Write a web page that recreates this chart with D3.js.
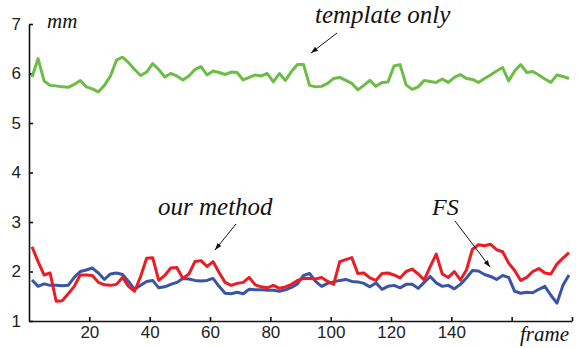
<!DOCTYPE html>
<html>
<head>
<meta charset="utf-8">
<script src="https://cdn.jsdelivr.net/npm/d3@7"></script>
<style>
  body { margin: 0; background: #fff; }
  .tick text { font-family: "Liberation Sans", Arial, sans-serif; font-size: 17px; fill: #222; }
  .note { font-family: "Liberation Serif", "Times New Roman", serif; font-style: italic; fill: #111; }
</style>
</head>
<body>
<svg id="chart" width="579" height="348"></svg>
<script>
// frame index (every other frame)
const frames = d3.range(1, 181, 2);

const templateOnly = [
  5.93, 6.30, 5.85, 5.76, 5.75, 5.73, 5.72, 5.78, 5.86, 5.73,
  5.69, 5.63, 5.76, 5.95, 6.27, 6.33, 6.22, 6.08, 5.96, 6.03,
  6.20, 6.08, 5.93, 6.00, 5.95, 5.87, 5.95, 6.08, 6.14, 5.97,
  6.05, 6.02, 5.98, 6.03, 6.02, 5.87, 5.92, 5.97, 5.95, 6.00,
  5.83, 6.00, 5.86, 6.04, 6.18, 6.18, 5.76, 5.73, 5.74, 5.80,
  5.90, 5.92, 5.86, 5.80, 5.67, 5.76, 5.86, 5.74, 5.82, 5.83,
  6.15, 6.18, 5.77, 5.68, 5.73, 5.86, 5.84, 5.82, 5.89, 5.82,
  5.92, 5.98, 5.90, 5.88, 5.82, 5.90, 5.97, 6.05, 6.12, 5.85,
  6.05, 6.18, 6.02, 6.04, 5.97, 5.89, 5.82, 5.97, 5.94, 5.90
];

const ourMethod = [
  2.50, 2.20, 1.93, 1.97, 1.40, 1.41, 1.55, 1.70, 1.93, 1.93,
  1.92, 1.78, 1.73, 1.72, 1.74, 1.88, 1.70, 1.60, 1.90, 2.27,
  2.28, 1.82, 1.92, 2.07, 2.08, 1.86, 1.95, 2.20, 2.22, 2.10,
  2.20, 1.98, 1.78, 1.72, 1.76, 1.78, 1.88, 1.73, 1.69, 1.67,
  1.72, 1.66, 1.69, 1.74, 1.82, 1.86, 1.86, 1.85, 1.88, 1.80,
  1.74, 2.20, 2.24, 2.28, 1.96, 1.97, 1.87, 1.82, 1.96, 1.97,
  1.93, 1.87, 2.00, 2.05, 1.95, 1.83, 2.10, 2.35, 1.95, 1.88,
  2.00, 1.83, 2.03, 2.45, 2.54, 2.52, 2.55, 2.44, 2.40, 2.17,
  2.02, 1.82, 1.88, 2.00, 2.06, 1.97, 1.95, 2.15, 2.27, 2.38
];

const fs = [
  1.83, 1.70, 1.75, 1.72, 1.72, 1.71, 1.72, 1.88, 2.00, 2.03,
  2.07, 1.97, 1.84, 1.95, 1.97, 1.94, 1.80, 1.64, 1.72, 1.80,
  1.82, 1.67, 1.69, 1.74, 1.78, 1.86, 1.85, 1.82, 1.81, 1.82,
  1.86, 1.70, 1.56, 1.55, 1.58, 1.55, 1.64, 1.63, 1.63, 1.62,
  1.62, 1.60, 1.63, 1.68, 1.75, 1.92, 1.96, 1.80, 1.70, 1.76,
  1.79, 1.82, 1.84, 1.80, 1.79, 1.76, 1.69, 1.77, 1.64, 1.70,
  1.72, 1.67, 1.74, 1.74, 1.66, 1.78, 1.90, 1.77, 1.70, 1.72,
  1.65, 1.74, 1.87, 2.02, 2.01, 1.94, 1.90, 1.84, 1.92, 1.88,
  1.60, 1.56, 1.58, 1.57, 1.64, 1.70, 1.52, 1.36, 1.72, 1.93
];

const yTicks = [1, 2, 3, 4, 5, 6, 7];
const xTicks = [20, 40, 60, 80, 100, 120, 140, 160, 180];

const svg = d3.select("#chart");

const x = d3.scaleLinear().domain([0, 180]).range([29, 572]);
const y = d3.scaleLinear().domain([1, 7]).range([321, 24]);

svg.append("defs").append("marker")
  .attr("id", "arrow")
  .attr("viewBox", "0 0 10 10")
  .attr("refX", 10).attr("refY", 5)
  .attr("markerWidth", 7).attr("markerHeight", 7)
  .attr("orient", "auto")
  .append("path")
    .attr("d", "M0,1.5 L10,5 L0,8.5 Z")
    .attr("fill", "#111");

// axes, matlab style: ticks point inward
const yAxis = svg.append("g")
  .attr("transform", `translate(${x(0)},0)`)
  .call(d3.axisLeft(y).tickValues(yTicks).tickSize(-4).tickSizeOuter(0).tickPadding(8)
    .tickFormat(d3.format("d")));

const xAxis = svg.append("g")
  .attr("transform", `translate(0,${y(1)})`)
  .call(d3.axisBottom(x).tickValues(xTicks).tickSize(-4).tickSizeOuter(0).tickPadding(5)
    .tickFormat(d => d <= 140 ? d : ""));

[yAxis, xAxis].forEach(a => {
  a.selectAll("path, line").attr("stroke", "#111").attr("stroke-width", 1.6);
});

const line = vals => d3.line()
  .x((d, i) => x(frames[i]))
  .y(d => y(d))(vals);

const series = [
  { vals: templateOnly, color: "#6cbd45" },
  { vals: fs, color: "#3a55a6" },
  { vals: ourMethod, color: "#ec1c24" }
];

svg.selectAll("path.series")
  .data(series)
  .enter().append("path")
    .attr("class", "series")
    .attr("d", d => line(d.vals))
    .attr("fill", "none")
    .attr("stroke", d => d.color)
    .attr("stroke-width", 3)
    .attr("stroke-linejoin", "round");

// labels
svg.append("text").attr("class", "note")
  .attr("x", 47).attr("y", 28).attr("font-size", 21).text("mm");
svg.append("text").attr("class", "note")
  .attr("x", 520).attr("y", 341).attr("font-size", 21).text("frame");

svg.append("text").attr("class", "note")
  .attr("x", 315).attr("y", 23).attr("font-size", 25).text("template only");
svg.append("text").attr("class", "note")
  .attr("x", 158).attr("y", 215).attr("font-size", 25).text("our method");
svg.append("text").attr("class", "note")
  .attr("x", 432).attr("y", 215).attr("font-size", 24).text("FS");

const arrows = [
  [337, 33, 311, 53],
  [236, 224, 215, 250],
  [455, 221, 490, 267]
];
svg.selectAll("line.arrow")
  .data(arrows)
  .enter().append("line")
    .attr("class", "arrow")
    .attr("x1", d => d[0]).attr("y1", d => d[1])
    .attr("x2", d => d[2]).attr("y2", d => d[3])
    .attr("stroke", "#111").attr("stroke-width", 1)
    .attr("marker-end", "url(#arrow)");
</script>
</body>
</html>
